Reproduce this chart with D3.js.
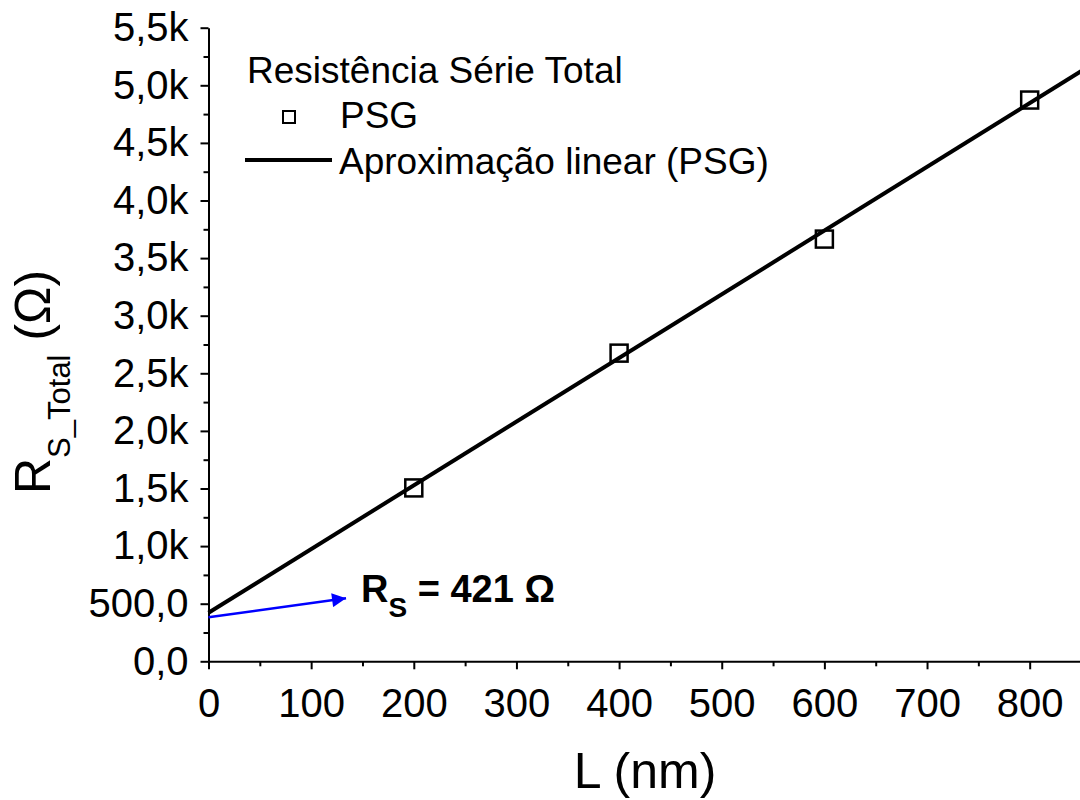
<!DOCTYPE html>
<html>
<head>
<meta charset="utf-8">
<script src="https://cdn.jsdelivr.net/npm/d3@7"></script>
<style>
  html, body { margin: 0; padding: 0; background: #fff; }
  svg { display: block; font-family: "Liberation Sans", Arial, Helvetica, sans-serif; }
</style>
</head>
<body>
<svg id="chart" width="1080" height="800"></svg>
<script>
// Channel length L (nm) and measured total series resistance (ohm)
const lengths = [200, 400, 600, 800];
const resistances = [1505, 2675, 3665, 4872];

// Linear fit: R = Rs + slope * L
const fitIntercept = 421;
const fitSlope = 5.53;
const fitRange = [0, 850];

// Axis ticks
const xTicks = [0, 100, 200, 300, 400, 500, 600, 700, 800];
const xMinorTicks = [50, 150, 250, 350, 450, 550, 650, 750, 850];
const yTicks = [0, 500, 1000, 1500, 2000, 2500, 3000, 3500, 4000, 4500, 5000, 5500];
const yTickLabels = ["0,0", "500,0", "1,0k", "1,5k", "2,0k", "2,5k", "3,0k", "3,5k", "4,0k", "4,5k", "5,0k", "5,5k"];
const yMinorTicks = [250, 750, 1250, 1750, 2250, 2750, 3250, 3750, 4250, 4750, 5250];

// Annotation arrow (data coordinates): from the intercept toward the label
const arrowFrom = [0, 382];
const arrowTo = [134, 547];

const svg = d3.select("#chart");

const x = d3.scaleLinear().domain([0, 850]).range([208.5, 1081]);
const y = d3.scaleLinear().domain([0, 5500]).range([661.3, 27.7]);

// Minor ticks
svg.append("g")
  .attr("transform", `translate(0,${y(0)})`)
  .call(d3.axisBottom(x).tickValues(xMinorTicks).tickSize(5).tickFormat(""))
  .call(g => g.select(".domain").remove())
  .selectAll("line").attr("stroke", "#000").attr("stroke-width", 2);

svg.append("g")
  .attr("transform", `translate(${x(0)},0)`)
  .call(d3.axisLeft(y).tickValues(yMinorTicks).tickSize(5).tickFormat(""))
  .call(g => g.select(".domain").remove())
  .selectAll("line").attr("stroke", "#000").attr("stroke-width", 2);

// Major axes
const xAxis = svg.append("g")
  .attr("transform", `translate(0,${y(0)})`)
  .call(d3.axisBottom(x).tickValues(xTicks).tickSize(8).tickPadding(19).tickSizeOuter(0).tickFormat(d3.format("d")));

const yAxis = svg.append("g")
  .attr("transform", `translate(${x(0)},0)`)
  .call(d3.axisLeft(y).tickValues(yTicks).tickSize(8).tickPadding(12).tickSizeOuter(0)
    .tickFormat((d, i) => yTickLabels[i]));

[xAxis, yAxis].forEach(g => {
  g.select(".domain").attr("stroke", "#000").attr("stroke-width", 2);
  g.selectAll(".tick line").attr("stroke", "#000").attr("stroke-width", 2);
  g.selectAll(".tick text")
    .attr("fill", "#000")
    .style("font-family", "'Liberation Sans', Arial, sans-serif")
    .style("font-size", "40px");
});

// Fit line
const fitLine = d3.line().x(d => x(d)).y(d => y(fitIntercept + fitSlope * d));
svg.append("path")
  .datum(fitRange)
  .attr("d", fitLine)
  .attr("fill", "none")
  .attr("stroke", "#000")
  .attr("stroke-width", 4);

// Data markers: open squares
const sq = 17;
svg.append("g").selectAll("rect")
  .data(lengths.map((d, i) => [d, resistances[i]]))
  .join("rect")
  .attr("x", d => x(d[0]) - sq / 2)
  .attr("y", d => y(d[1]) - sq / 2)
  .attr("width", sq)
  .attr("height", sq)
  .attr("fill", "none")
  .attr("stroke", "#000")
  .attr("stroke-width", 2.5);

// Arrow marker
svg.append("defs").append("marker")
  .attr("id", "arrowhead")
  .attr("viewBox", "0 0 10 10")
  .attr("refX", 10).attr("refY", 5)
  .attr("markerWidth", 20).attr("markerHeight", 14)
  .attr("markerUnits", "userSpaceOnUse")
  .attr("orient", "auto")
  .append("path")
  .attr("d", "M0,0 L10,5 L0,10 Z")
  .attr("fill", "#0000ff");

svg.append("line")
  .attr("x1", x(arrowFrom[0])).attr("y1", y(arrowFrom[1]))
  .attr("x2", x(arrowTo[0])).attr("y2", y(arrowTo[1]))
  .attr("stroke", "#0000ff")
  .attr("stroke-width", 2.5)
  .attr("marker-end", "url(#arrowhead)");

// Annotation label
const ann = svg.append("text")
  .attr("x", 361).attr("y", 602)
  .attr("fill", "#000")
  .style("font-weight", "bold")
  .style("font-size", "38px");
ann.append("tspan").text("R");
ann.append("tspan").attr("dy", 15).style("font-size", "28px").text("S");
ann.append("tspan").attr("dy", -15).text(" = " + fitIntercept + " Ω");

// Legend
const legend = svg.append("g").style("font-size", "37px");
legend.append("text").attr("x", 247).attr("y", 83).text("Resistência Série Total");
legend.append("rect")
  .attr("x", 283).attr("y", 111).attr("width", 12).attr("height", 12)
  .attr("fill", "none").attr("stroke", "#000").attr("stroke-width", 2);
legend.append("text").attr("x", 340).attr("y", 128).text("PSG");
legend.append("line")
  .attr("x1", 245).attr("x2", 332).attr("y1", 160).attr("y2", 160)
  .attr("stroke", "#000").attr("stroke-width", 4);
legend.append("text").attr("x", 339).attr("y", 174).text("Aproximação linear (PSG)");

// Axis titles
svg.append("text")
  .attr("x", 645).attr("y", 788)
  .attr("text-anchor", "middle")
  .style("font-size", "50px")
  .text("L (nm)");

const yTitle = svg.append("text")
  .attr("transform", "translate(50,494) rotate(-90)")
  .style("font-size", "50px");
yTitle.append("tspan").text("R");
yTitle.append("tspan").attr("dy", 20).style("font-size", "31px").text("S_Total");
yTitle.append("tspan").attr("dy", -20).text(" (Ω)");
</script>
</body>
</html>
